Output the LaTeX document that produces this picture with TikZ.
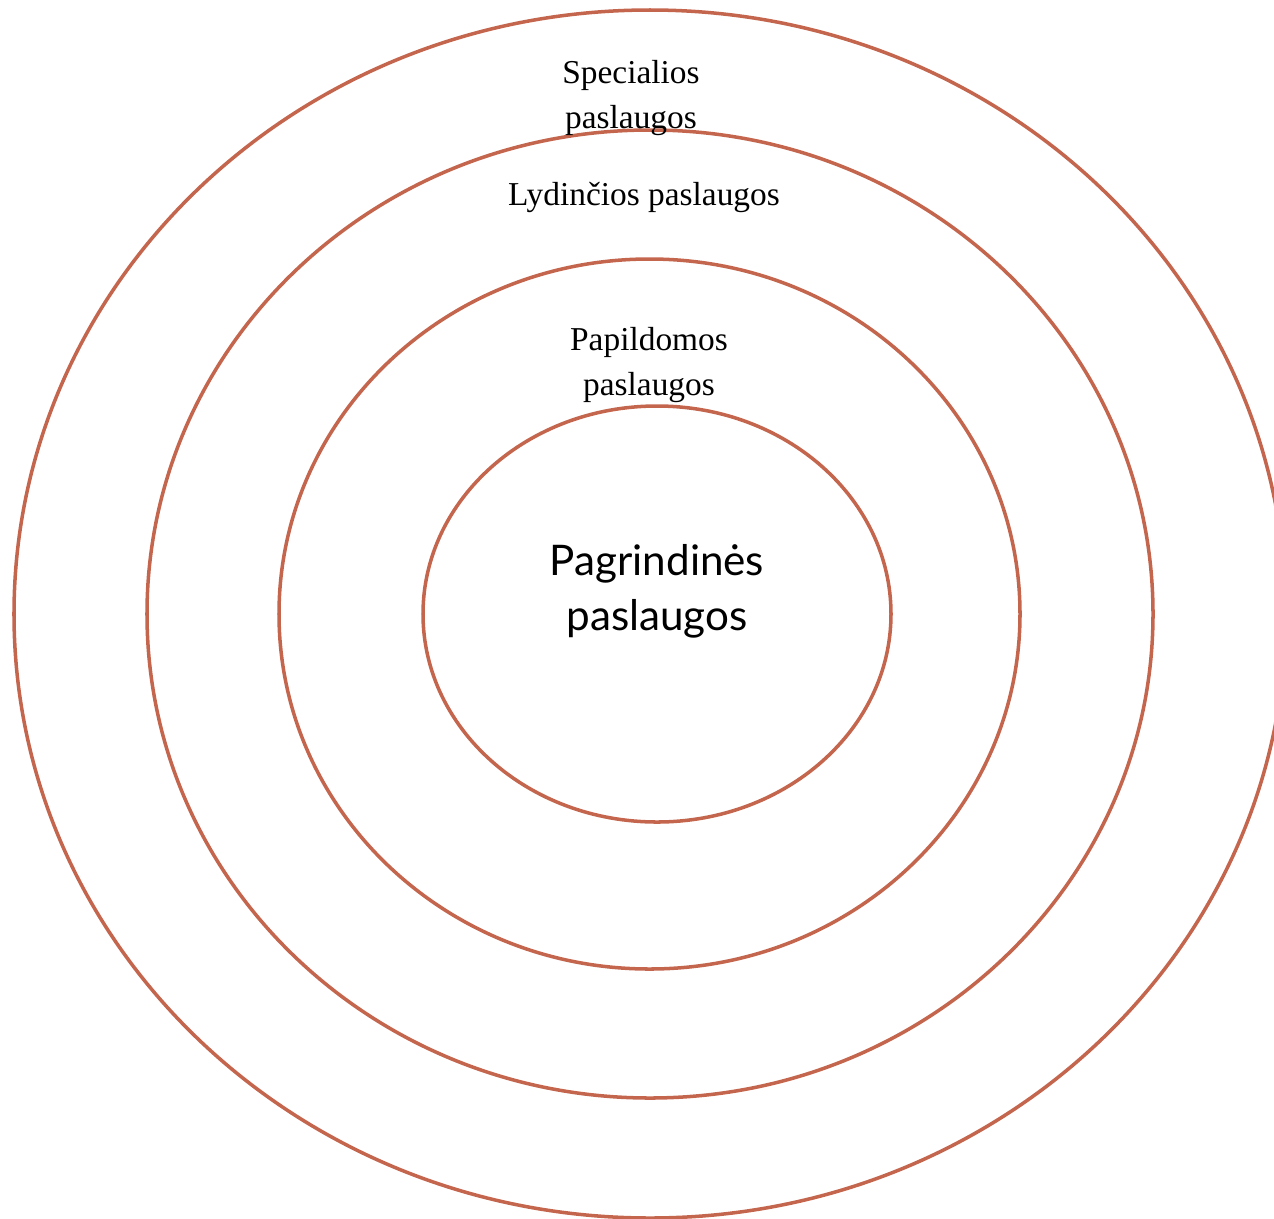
\documentclass[tikz,border=0pt]{standalone}
\usepackage{fontspec}
\setmainfont{Liberation Serif}
\newfontfamily\corefont{Lato}
\usepackage{tikz}
\usetikzlibrary{positioning}
\definecolor{ringc}{RGB}{196,102,78}

\begin{document}
\begin{tikzpicture}[x=0.02cm,y=-0.02cm,
  ring/.style={draw=ringc,line width=2pt},
  lbl/.style={align=center,font=\fontsize{19}{25.5}\selectfont,inner sep=0pt},
  core/.style={align=center,font=\corefont\fontsize{24}{31.5}\selectfont,inner sep=0pt}]
  \useasboundingbox (0,0) rectangle (1274,1218);
  \clip (0,0) rectangle (1274,1218);
  \coordinate (O) at (650,614);
  \coordinate (Oin) at (657,614);
  % rings, outer to inner
  \draw[ring] (O) ellipse [x radius=636,y radius=604];
  \draw[ring] (O) ellipse [x radius=503,y radius=484];
  \draw[ring] (649.5,614) ellipse [x radius=370.5,y radius=355];
  \draw[ring] (Oin) ellipse [x radius=234,y radius=208];
  % labels
  \node[lbl] (spec) at (631,98) {Specialios\\paslaugos};
  \node[lbl] (lyd) at (644,197) {Lydinčios paslaugos};
  \node[lbl] (pap) at (649,365) {Papildomos\\paslaugos};
  \node[core] (pag) at (657,591) {Pagrindinės\\paslaugos};
\end{tikzpicture}
\end{document}
